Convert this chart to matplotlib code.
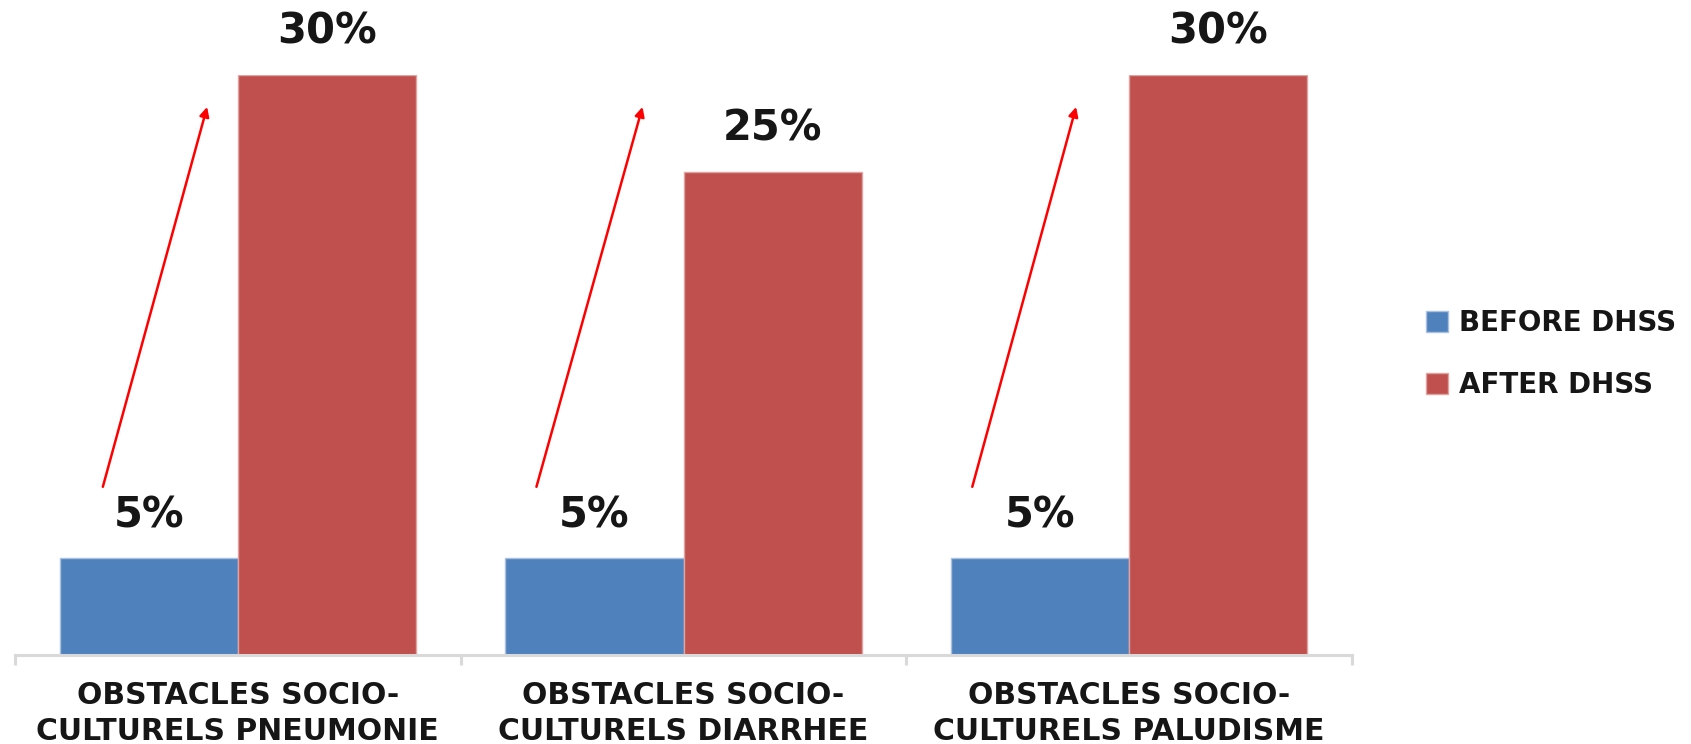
import numpy as np
import matplotlib
matplotlib.use("Agg")
import matplotlib.pyplot as plt

categories = [
	"OBSTACLES SOCIO-\nCULTURELS PNEUMONIE",
	"OBSTACLES SOCIO-\nCULTURELS DIARRHEE",
	"OBSTACLES SOCIO-\nCULTURELS PALUDISME",
]
series_names = ["BEFORE DHSS", "AFTER DHSS"]
before = [5, 5, 5]
after = [30, 25, 30]

# hand-drawn arrows: (tail x offset, head x offset) from each category centre
arrow_dx = [(-0.303, -0.069), (-0.330, -0.092), (-0.352, -0.119)]
arrow_y = (8.7, 28.35)

blue = "#4F81BD"
red = "#C0504D"
grey = "#D9D9D9"
ink = "#161616"

fig = plt.figure(figsize=(16.91, 7.44), dpi=100)
ax = fig.add_axes([0.0089, 0.1196, 0.7906, 0.7796])

x = np.arange(len(categories))
w = 0.4
b1 = ax.bar(x - w / 2, before, w, color=blue, edgecolor="#A9C0DE", linewidth=1.0, label=series_names[0])
b2 = ax.bar(x + w / 2, after, w, color=red, edgecolor="#DFA3A1", linewidth=1.0, label=series_names[1])

for bars, vals in ((b1, before), (b2, after)) :
	for r, v in zip(bars, vals) :
		ax.annotate("{0}%".format(v), (r.get_x() + r.get_width() / 2, v),
			xytext=(0, 31), textcoords="offset points",
			ha="center", va="center", fontsize=30, fontweight="bold", color=ink,
			annotation_clip=False)

for i, (dt, dh) in zip(x, arrow_dx) :
	ax.annotate("", xy=(i + dh, arrow_y[1]), xytext=(i + dt, arrow_y[0]),
		arrowprops=dict(arrowstyle="-|>", color="#FF0000", lw=1.8, mutation_scale=14,
			shrinkA=0, shrinkB=0),
		annotation_clip=False)

ax.set_xlim(-0.5, len(categories) - 0.5)
ax.set_ylim(0, 30)

for s in ("left", "right", "top") :
	ax.spines[s].set_visible(False)
ax.spines["bottom"].set_color(grey)
ax.spines["bottom"].set_linewidth(2.2)

ax.set_yticks([])
ax.set_xticks(np.arange(len(categories) + 1) - 0.5)
ax.set_xticklabels([])
ax.tick_params(axis="x", which="major", length=7, width=2.2, color=grey)
ax.set_xticks(x, minor=True)
ax.set_xticklabels(categories, minor=True, fontsize=21.5, fontweight="bold",
	color=ink, linespacing=1.3)
ax.tick_params(axis="x", which="minor", length=0, pad=19)

fig.legend(handles=[b1, b2], loc="center left", bbox_to_anchor=(0.8285, 0.524),
	frameon=False, fontsize=20, prop={"weight": "bold", "size": 20},
	handlelength=0.8, handleheight=0.8,
	handletextpad=0.4, labelspacing=1.23, labelcolor=ink)

fig.savefig("out.png", dpi=100)
